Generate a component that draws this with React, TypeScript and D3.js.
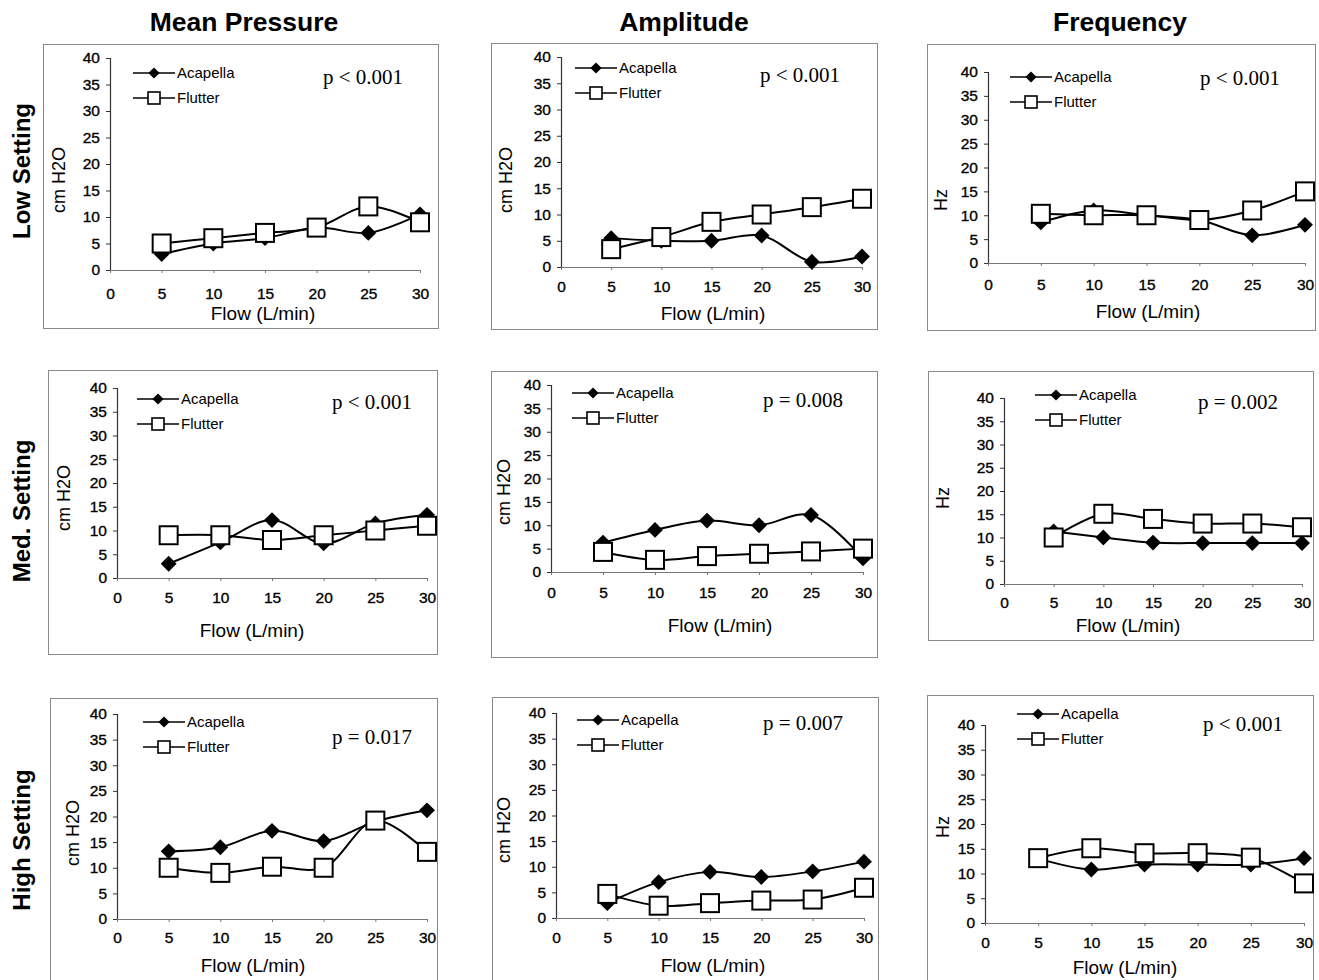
import { useRef, useEffect } from "react";
import * as d3 from "d3";

const flows = [5, 10, 15, 20, 25, 30];
const xTicks = [0, 5, 10, 15, 20, 25, 30];
const yTicks = [0, 5, 10, 15, 20, 25, 30, 35, 40];

const columnTitles = ["Mean Pressure", "Amplitude", "Frequency"];
const rowTitles = ["Low Setting", "Med. Setting", "High Setting"];
const yTitles = ["cm H2O", "cm H2O", "Hz"];
const seriesNames = ["Acapella", "Flutter"];

// Low setting
const meanLowAcapella = [3, 5, 6, 8, 7, 10.5];
const meanLowFlutter = [5, 6, 7, 8, 12, 9];
const ampLowAcapella = [5.5, 5, 5, 6, 1, 2];
const ampLowFlutter = [3.4, 5.7, 8.6, 10, 11.4, 13];
const freqLowAcapella = [8.5, 11, 10, 9, 5.8, 8];
const freqLowFlutter = [10.3, 10, 10, 9, 11, 15];

// Med setting
const meanMedAcapella = [3, 7.5, 12.2, 7.3, 11.5, 13.3];
const meanMedFlutter = [9, 9, 8, 9, 10, 11];
const ampMedAcapella = [6.3, 9, 11, 10, 12.2, 2.9];
const ampMedFlutter = [4.3, 2.6, 3.4, 3.9, 4.4, 5];
const freqMedAcapella = [11.3, 10, 8.9, 8.8, 8.8, 8.8];
const freqMedFlutter = [10, 15.1, 14, 13, 13, 12.2];

// High setting
const meanHighAcapella = [13.2, 14, 17.2, 15.2, 19, 21.2];
const meanHighFlutter = [10, 9, 10.2, 10, 19.2, 13.1];
const ampHighAcapella = [2.9, 7, 9, 8, 9.1, 11];
const ampHighFlutter = [4.7, 2.4, 2.9, 3.4, 3.6, 5.9];
const freqHighAcapella = [13, 10.8, 11.8, 11.8, 11.8, 13.1];
const freqHighFlutter = [13.1, 15.1, 14.1, 14.1, 13.2, 8];

const pLabels = [
  "p < 0.001", "p < 0.001", "p < 0.001",
  "p < 0.001", "p = 0.008", "p = 0.002",
  "p = 0.017", "p = 0.007", "p < 0.001",
];

const panelData = [
  [meanLowAcapella, meanLowFlutter], [ampLowAcapella, ampLowFlutter], [freqLowAcapella, freqLowFlutter],
  [meanMedAcapella, meanMedFlutter], [ampMedAcapella, ampMedFlutter], [freqMedAcapella, freqMedFlutter],
  [meanHighAcapella, meanHighFlutter], [ampHighAcapella, ampHighFlutter], [freqHighAcapella, freqHighFlutter],
];

// layout of each small chart (frame box, plot range, legend, labels)
const layouts = [
  { fr: [43, 44, 438, 328], x: [110, 420], y: [270, 58], leg: [133, 73], p: [323, 77], yt: [58, 180], xt: [263, 313], tk: 27 },
  { fr: [491, 43, 877, 329], x: [561, 862], y: [267, 57], leg: [575, 68], p: [760, 75], yt: [505, 180], xt: [713, 313], tk: 23 },
  { fr: [927, 44, 1315, 330], x: [988, 1305], y: [263, 72], leg: [1010, 77], p: [1200, 78], yt: [940, 200], xt: [1148, 311], tk: 25 },
  { fr: [48, 370, 437, 654], x: [117, 427], y: [578, 388], leg: [137, 399], p: [332, 402], yt: [63, 498], xt: [252, 630], tk: 23 },
  { fr: [491, 371, 877, 657], x: [551, 863], y: [572, 385], leg: [572, 393], p: [763, 400], yt: [503, 492], xt: [720, 625], tk: 24 },
  { fr: [928, 371, 1313, 640], x: [1004, 1302], y: [584, 398], leg: [1035, 395], p: [1198, 402], yt: [942, 498], xt: [1128, 625], tk: 22 },
  { fr: [50, 698, 437, 985], x: [117, 427], y: [919, 714], leg: [143, 722], p: [332, 737], yt: [72, 833], xt: [253, 965], tk: 22 },
  { fr: [492, 697, 878, 985], x: [556, 864], y: [918, 713], leg: [577, 720], p: [763, 723], yt: [503, 830], xt: [713, 965], tk: 23 },
  { fr: [927, 695, 1313, 985], x: [985, 1304], y: [923, 725], leg: [1017, 714], p: [1203, 724], yt: [942, 827], xt: [1125, 967], tk: 23 },
];

const colCenters = [244, 684, 1120];
const rowCenters = [171, 511, 840];

const SANS = "'Liberation Sans', Arial, Helvetica, sans-serif";
const SERIF = "'Liberation Serif', 'Times New Roman', serif";

const App = () => {
  const svgRef = useRef<SVGSVGElement | null>(null);
  const width = 1319;
  const height = 980;

  useEffect(() => {
    if (!svgRef.current) return;
    const svg = d3.select(svgRef.current);
    svg.selectAll("*").remove();

    svg.append("rect").attr("width", width).attr("height", height).attr("fill", "#fff");

    // column titles
    svg.selectAll(".col-title")
      .data(columnTitles)
      .enter()
      .append("text")
      .attr("x", (_, i) => colCenters[i])
      .attr("y", 31)
      .attr("text-anchor", "middle")
      .attr("font-family", SANS)
      .attr("font-weight", "bold")
      .attr("font-size", 26.5)
      .text(d => d);

    // row titles
    svg.selectAll(".row-title")
      .data(rowTitles)
      .enter()
      .append("text")
      .attr("transform", (_, i) => `translate(30,${rowCenters[i]}) rotate(-90)`)
      .attr("text-anchor", "middle")
      .attr("font-family", SANS)
      .attr("font-weight", "bold")
      .attr("font-size", 24)
      .text(d => d);

    const diamond = d3.symbol().type(d3.symbolDiamond2);

    panelData.forEach((series, idx) => {
      const L = layouts[idx];
      const col = idx % 3;
      const g = svg.append("g");

      // frame
      g.append("rect")
        .attr("x", L.fr[0] + 0.5)
        .attr("y", L.fr[1] + 0.5)
        .attr("width", L.fr[2] - L.fr[0])
        .attr("height", L.fr[3] - L.fr[1])
        .attr("fill", "none")
        .attr("stroke", "#8a8a8a")
        .attr("stroke-width", 1);

      const x = d3.scaleLinear().domain([0, 30]).range(L.x);
      const y = d3.scaleLinear().domain([0, 40]).range(L.y);

      // y axis
      const yAxis = g.append("g")
        .attr("transform", `translate(${L.x[0]},0)`)
        .call(d3.axisLeft(y).tickValues(yTicks).tickSize(4).tickPadding(6));
      yAxis.select(".domain").attr("stroke", "#333").attr("stroke-width", 1.2);
      yAxis.selectAll(".tick line").attr("stroke", "#333");
      yAxis.selectAll(".tick text")
        .attr("font-family", SANS)
        .attr("font-size", 15.5)
        .attr("fill", "#000")
        .attr("stroke", "#000")
        .attr("stroke-width", 0.35);

      // x axis
      const xAxis = g.append("g")
        .attr("transform", `translate(0,${L.y[0]})`)
        .call(d3.axisBottom(x).tickValues(xTicks).tickSize(3).tickPadding(L.tk - 12));
      xAxis.select(".domain").attr("stroke", "#777").attr("stroke-width", 1);
      xAxis.selectAll(".tick line").attr("stroke", "#777");
      xAxis.selectAll(".tick text")
        .attr("font-family", SANS)
        .attr("font-size", 15.5)
        .attr("fill", "#000")
        .attr("stroke", "#000")
        .attr("stroke-width", 0.35);

      // axis titles
      g.append("text")
        .attr("x", L.xt[0])
        .attr("y", L.xt[1] + 7)
        .attr("text-anchor", "middle")
        .attr("font-family", SANS)
        .attr("font-size", 19)
        .text("Flow (L/min)");

      g.append("text")
        .attr("transform", `translate(${L.yt[0] + 7},${L.yt[1]}) rotate(-90)`)
        .attr("text-anchor", "middle")
        .attr("font-family", SANS)
        .attr("font-size", 18)
        .text(yTitles[col]);

      // lines
      const line = d3.line<number>()
        .x((_, i) => x(flows[i]))
        .y(d => y(d))
        .curve(d3.curveCatmullRom.alpha(0.5));

      series.forEach(vals => {
        g.append("path")
          .datum(vals)
          .attr("d", line)
          .attr("fill", "none")
          .attr("stroke", "#000")
          .attr("stroke-width", 2);
      });

      // Acapella diamonds
      g.selectAll(".dia")
        .data(series[0])
        .enter()
        .append("path")
        .attr("d", diamond.size(160)())
        .attr("transform", (d, i) => `translate(${x(flows[i])},${y(d)})`)
        .attr("fill", "#000");

      // Flutter squares
      const s = 18;
      g.selectAll(".sq")
        .data(series[1])
        .enter()
        .append("rect")
        .attr("x", (_, i) => x(flows[i]) - s / 2)
        .attr("y", d => y(d) - s / 2)
        .attr("width", s)
        .attr("height", s)
        .attr("fill", "#fff")
        .attr("stroke", "#000")
        .attr("stroke-width", 2);

      // legend
      seriesNames.forEach((name, k) => {
        const ly = L.leg[1] + k * 25;
        const lx = L.leg[0];
        g.append("line")
          .attr("x1", lx).attr("x2", lx + 42)
          .attr("y1", ly).attr("y2", ly)
          .attr("stroke", "#000")
          .attr("stroke-width", 1.6);
        if (k === 0) {
          g.append("path")
            .attr("d", diamond.size(80)())
            .attr("transform", `translate(${lx + 21},${ly})`)
            .attr("fill", "#000");
        } else {
          g.append("rect")
            .attr("x", lx + 21 - 6).attr("y", ly - 6)
            .attr("width", 12).attr("height", 12)
            .attr("fill", "#fff")
            .attr("stroke", "#000")
            .attr("stroke-width", 1.6);
        }
        g.append("text")
          .attr("x", lx + 44)
          .attr("y", ly + 5)
          .attr("font-family", SANS)
          .attr("font-size", 15)
          .text(name);
      });

      // p value
      g.append("text")
        .attr("x", L.p[0])
        .attr("y", L.p[1] + 7)
        .attr("font-family", SERIF)
        .attr("font-size", 21)
        .text(pLabels[idx]);
    });
  }, []);

  return (
    <div style={{ position: "absolute", left: 0, top: 0 }}>
      <svg ref={svgRef} width={width} height={height} viewBox={`0 0 ${width} ${height}`}></svg>
    </div>
  );
};

export default App;
